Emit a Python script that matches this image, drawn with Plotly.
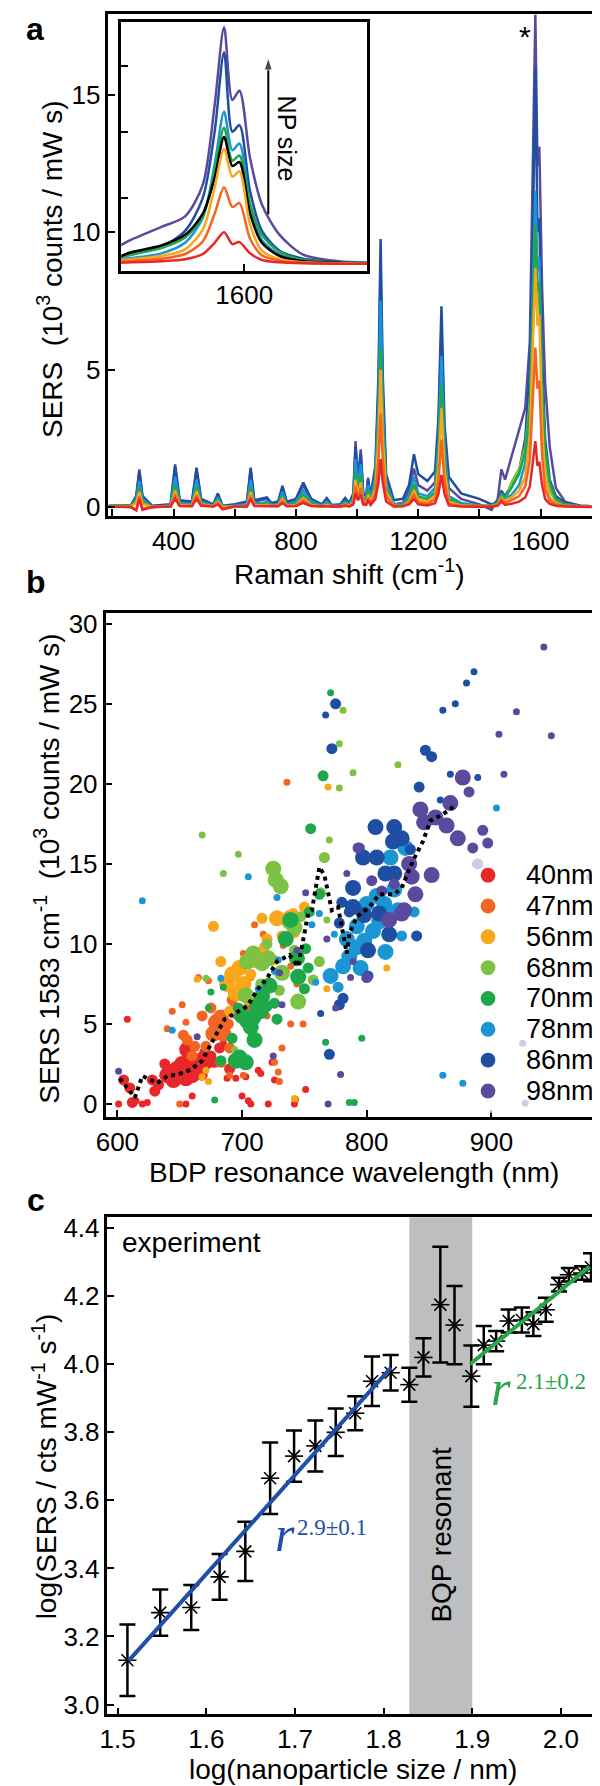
import plotly.graph_objects as go

W, H = 600, 1786
FONT = "Liberation Sans"
SERIF = "Liberation Serif"


def px(x):
    return x / W


def py(y):
    return 1 - y / H


# ---------------- Panel a: SERS spectra ----------------
shift = [187, 260, 278, 288, 298, 330, 390, 405, 420, 460,
         475, 490, 530, 545, 560, 600, 640, 652, 664, 690,
         705, 720, 742, 756, 770, 800, 824, 850, 885, 901,
         917, 945, 961, 975, 988, 995, 1003, 1012, 1020, 1030,
         1036, 1044, 1060, 1070, 1077, 1084, 1095, 1120, 1150, 1170,
         1186, 1200, 1230, 1255, 1266, 1276, 1286, 1300, 1340, 1400,
         1440, 1460, 1472, 1484, 1505, 1530, 1550, 1565, 1575, 1583,
         1590, 1596, 1605, 1615, 1630, 1650, 1680, 1730, 1811]

sers_98nm = [0.00, 0.05, 0.40, 1.37, 0.40, 0.00, 0.05, 1.45, 0.20, 0.15,
             1.35, 0.25, 0.05, 0.45, 0.00, 0.05, 0.15, 1.35, 0.20, 0.25,
             0.30, 0.10, 0.15, 0.70, 0.15, 0.25, 0.80, 0.25, 0.05, 0.30,
             0.05, 0.05, 0.30, 0.10, 0.50, 2.40, 0.90, 2.10, 0.50, 0.40,
             1.07, 0.35, 1.30, 4.20, 8.50, 4.20, 1.00, 0.10, 0.15, 0.60,
             1.40, 0.80, 0.60, 0.90, 2.70, 6.50, 2.60, 0.70, 0.30, 0.10,
             -0.10, 0.30, 1.37, 1.00, 1.86, 2.80, 3.60, 6.00, 12.0, 17.9,
             12.4, 13.1, 8.00, 4.50, 2.20, 0.70, 0.20, 0.05, 0.00]
sers_86nm = [0.05, 0.05, 0.40, 1.30, 0.40, 0.05, 0.10, 1.55, 0.25, 0.20,
             1.43, 0.30, 0.10, 0.50, 0.05, 0.10, 0.20, 1.43, 0.25, 0.30,
             0.35, 0.15, 0.20, 0.77, 0.20, 0.30, 0.89, 0.30, 0.10, 0.33,
             0.08, 0.10, 0.33, 0.15, 0.50, 2.20, 0.90, 1.95, 0.50, 0.40,
             1.00, 0.40, 1.50, 4.80, 9.75, 4.80, 1.20, 0.25, 0.30, 0.80,
             1.92, 1.20, 0.95, 1.30, 3.20, 7.30, 3.00, 1.10, 0.50, 0.30,
             0.10, 0.20, 0.60, 0.40, 0.80, 1.30, 2.50, 5.00, 10.0, 16.0,
             10.0, 10.5, 5.50, 2.50, 1.00, 0.40, 0.15, 0.05, 0.00]
sers_78nm = [0.02, 0.03, 0.30, 0.95, 0.30, 0.00, 0.05, 1.10, 0.15, 0.10,
             1.00, 0.20, 0.05, 0.35, 0.00, 0.05, 0.10, 1.00, 0.15, 0.15,
             0.20, 0.08, 0.10, 0.55, 0.10, 0.20, 0.60, 0.20, 0.05, 0.20,
             0.05, 0.05, 0.20, 0.10, 0.35, 1.75, 0.70, 1.55, 0.35, 0.30,
             0.80, 0.30, 1.10, 3.70, 7.50, 3.70, 0.90, 0.10, 0.10, 0.40,
             1.10, 0.50, 0.40, 0.70, 2.30, 5.50, 2.20, 0.40, 0.15, 0.05,
             0.05, 0.15, 0.50, 0.30, 0.45, 0.80, 1.60, 3.50, 7.50, 11.5,
             8.60, 9.10, 4.50, 1.80, 0.70, 0.25, 0.10, 0.03, 0.00]
sers_70nm = [0.05, 0.08, 0.20, 0.70, 0.20, 0.00, 0.05, 0.80, 0.10, 0.08,
             0.75, 0.15, 0.05, 0.25, 0.00, 0.03, 0.05, 0.70, 0.10, 0.10,
             0.12, 0.05, 0.08, 0.40, 0.08, 0.12, 0.45, 0.12, 0.03, 0.12,
             0.03, 0.03, 0.15, 0.05, 0.25, 1.30, 0.50, 1.15, 0.25, 0.20,
             0.60, 0.20, 0.85, 2.90, 5.80, 2.90, 0.70, 0.05, 0.08, 0.30,
             0.83, 0.40, 0.30, 0.55, 1.80, 4.45, 1.75, 0.30, 0.10, 0.05,
             0.05, 0.15, 0.45, 0.35, 0.70, 1.20, 2.00, 3.60, 7.00, 10.3,
             7.80, 8.20, 4.50, 2.20, 0.90, 0.30, 0.10, 0.02, 0.00]
sers_68nm = [0.03, 0.05, 0.20, 0.65, 0.20, 0.00, 0.05, 0.72, 0.10, 0.08,
             0.70, 0.12, 0.04, 0.22, 0.00, 0.03, 0.05, 0.65, 0.10, 0.08,
             0.10, 0.05, 0.06, 0.36, 0.06, 0.10, 0.40, 0.10, 0.03, 0.10,
             0.03, 0.03, 0.12, 0.05, 0.22, 1.20, 0.45, 1.05, 0.22, 0.18,
             0.55, 0.18, 0.80, 2.75, 5.50, 2.75, 0.65, 0.05, 0.06, 0.25,
             0.75, 0.35, 0.25, 0.50, 1.70, 4.20, 1.65, 0.25, 0.08, 0.04,
             0.04, 0.12, 0.40, 0.25, 0.90, 1.40, 2.20, 3.80, 6.50, 9.60,
             7.40, 7.70, 3.80, 1.60, 0.60, 0.20, 0.08, 0.02, 0.00]
sers_56nm = [0.02, 0.03, 0.15, 0.55, 0.12, 0.00, 0.03, 0.60, 0.08, 0.05,
             0.58, 0.10, 0.03, 0.20, 0.00, 0.02, 0.04, 0.55, 0.08, 0.06,
             0.08, 0.04, 0.05, 0.30, 0.05, 0.08, 0.33, 0.08, 0.02, 0.08,
             0.02, 0.02, 0.10, 0.04, 0.20, 1.00, 0.40, 0.90, 0.20, 0.15,
             0.45, 0.15, 0.70, 2.50, 5.00, 2.50, 0.55, 0.04, 0.05, 0.20,
             0.60, 0.25, 0.20, 0.40, 1.40, 3.60, 1.40, 0.20, 0.06, 0.03,
             0.03, 0.10, 0.35, 0.20, 0.35, 0.60, 1.10, 2.60, 5.80, 8.70,
             6.60, 7.00, 3.00, 1.00, 0.35, 0.12, 0.05, 0.02, 0.00]
sers_47nm = [0.02, 0.00, -0.10, 0.40, -0.05, 0.00, 0.02, 0.45, 0.05, 0.04,
             0.43, 0.08, 0.02, 0.15, -0.05, 0.02, 0.03, 0.42, 0.05, 0.04,
             0.05, 0.03, 0.04, 0.22, 0.04, 0.05, 0.25, 0.05, 0.02, 0.05,
             0.02, 0.02, 0.08, 0.03, 0.15, 0.75, 0.30, 0.70, 0.15, 0.12,
             0.35, 0.12, 0.50, 1.70, 3.40, 1.70, 0.40, 0.03, 0.04, 0.15,
             0.45, 0.18, 0.12, 0.28, 0.95, 2.45, 0.95, 0.12, 0.04, 0.02,
             0.02, 0.08, 0.30, 0.15, 0.25, 0.40, 0.75, 1.70, 3.80, 5.80,
             4.30, 4.60, 1.90, 0.65, 0.25, 0.10, 0.04, 0.02, 0.00]
sers_40nm = [0.02, 0.00, -0.12, 0.29, -0.10, 0.00, 0.02, 0.30, 0.04, 0.03,
             0.30, 0.05, 0.02, 0.10, -0.08, 0.02, 0.02, 0.30, 0.04, 0.03,
             0.04, 0.02, 0.03, 0.15, 0.03, 0.04, 0.15, 0.04, 0.02, 0.03,
             0.02, 0.02, 0.05, 0.02, 0.10, 0.50, 0.25, 0.45, 0.10, 0.08,
             0.25, 0.08, 0.30, 0.90, 1.74, 0.90, 0.20, 0.02, 0.03, 0.10,
             0.30, 0.10, 0.06, 0.14, 0.48, 1.17, 0.48, 0.06, 0.02, 0.01,
             0.01, 0.05, 0.20, 0.08, 0.12, 0.20, 0.35, 0.75, 1.60, 2.40,
             1.50, 1.65, 0.80, 0.30, 0.12, 0.05, 0.02, 0.01, 0.00]

size_names = ["40nm", "47nm", "56nm", "68nm", "70nm", "78nm", "86nm", "98nm"]
colors = {"40nm": "#e8272b", "47nm": "#f26522", "56nm": "#f9a61b", "68nm": "#7dc242",
          "70nm": "#1fa84a", "78nm": "#1b95d4", "86nm": "#1e4fa3", "98nm": "#5a4a9e"}
spectra = {"40nm": sers_40nm, "47nm": sers_47nm, "56nm": sers_56nm, "68nm": sers_68nm,
           "70nm": sers_70nm, "78nm": sers_78nm, "86nm": sers_86nm, "98nm": sers_98nm}

# inset arrow (NP size direction), in inset data units
np_arrow_x = [1620.4, 1620.4]
np_arrow_y = [3.76, 15.6]

# ---------------- Panel b: SERS vs BDP resonance ----------------
# (wavelength nm, SERS 10^3 counts/mW s, weight class 1..3)
pts_40nm = [(601, 0.0, 1), (608, 5.3, 1), (605, 1.5, 2), (610, 1.0, 2), (612, 0.1, 2), (615, 0.2, 1),
            (620, 0.0, 1), (624, 0.1, 1), (628, 1.5, 2), (630, 0.8, 2), (633, 1.2, 2), (638, 2.5, 2),
            (640, 1.8, 3), (643, 2.0, 3), (645, 1.5, 3), (648, 2.2, 3), (650, 1.8, 3), (652, 2.5, 3),
            (655, 1.6, 3), (656, 3.4, 3), (658, 2.0, 3), (660, 1.8, 3), (662, 2.6, 3), (665, 2.2, 3),
            (667, 2.9, 2), (668, 1.8, 2), (670, 3.2, 2), (672, 2.5, 2), (675, 3.0, 2), (678, 2.6, 2),
            (682, 3.5, 2), (685, 3.8, 1), (688, 1.6, 1), (690, 2.2, 2), (695, 1.6, 1), (700, 0.5, 1),
            (703, 1.7, 1), (707, 0.0, 1), (713, 2.1, 1), (721, 0.0, 1), (724, 2.6, 1), (726, 1.5, 1),
            (742, 0.0, 1), (751, 0.9, 1), (660, 0.5, 1), (655, 0.0, 1), (705, 0.2, 1), (715, 1.9, 1)]
pts_47nm = [(640, 4.7, 1), (644, 5.8, 1), (652, 6.2, 1), (655, 5.1, 1), (653, 4.3, 2), (656, 4.0, 2),
            (662, 3.6, 2), (665, 7.9, 1), (671, 3.6, 2), (673, 7.7, 1), (677, 4.4, 3), (679, 5.1, 3),
            (683, 5.4, 3), (685, 4.4, 3), (683, 2.6, 2), (689, 5.0, 2), (690, 3.5, 2), (692, 6.5, 2),
            (695, 5.8, 3), (698, 6.8, 2), (701, 3.0, 1), (701, 9.4, 1), (703, 8.7, 1), (705, 6.0, 2),
            (707, 7.9, 1), (710, 11.2, 1), (717, 10.6, 1), (712, 6.5, 2), (720, 5.5, 1), (726, 2.6, 1),
            (729, 2.0, 1), (730, 1.4, 1), (732, 3.5, 1), (733, 9.9, 1), (739, 8.6, 1), (739, 5.0, 1),
            (744, 7.5, 1), (749, 5.0, 1), (743, 0.3, 1), (650, 0.0, 1), (690, 1.8, 1), (701, 1.8, 1),
            (736, 20.1, 1), (668, 5.5, 2), (675, 6.0, 2), (660, 3.0, 2)]
pts_56nm = [(664, 7.8, 1), (668, 1.7, 1), (671, 2.1, 1), (673, 1.4, 1), (677, 11.1, 2), (683, 8.9, 2),
            (688, 7.5, 3), (692, 8.1, 3), (695, 6.9, 3), (698, 8.5, 3), (701, 7.5, 3), (705, 6.5, 2),
            (707, 8.1, 2), (710, 9.0, 3), (714, 9.3, 3), (716, 11.6, 2), (718, 9.8, 2), (720, 10.3, 2),
            (725, 9.0, 2), (728, 11.6, 3), (732, 10.5, 2), (738, 11.6, 3), (741, 11.9, 2), (742, 10.7, 2),
            (750, 12.3, 2), (742, 0.35, 1), (768, 7.2, 1), (769, 19.8, 1), (816, 8.5, 1), (700, 5.5, 2),
            (690, 5.8, 2)]
pts_68nm = [(668, 16.8, 1), (685, 14.4, 1), (697, 15.6, 1), (725, 14.7, 3), (727, 14.0, 3), (731, 13.6, 3),
            (763, 13.2, 2), (766, 15.4, 2), (770, 16.5, 1), (768, 11.5, 1), (781, 24.6, 1), (778, 22.5, 1),
            (789, 20.7, 1), (778, 19.75, 1), (825, 21.2, 1), (704, 8.9, 3), (709, 9.4, 3), (716, 8.8, 3),
            (721, 9.1, 3), (732, 8.2, 3), (738, 11.4, 3), (742, 11.0, 3), (747, 11.7, 2), (745, 6.4, 3),
            (757, 7.75, 2), (762, 8.9, 2), (671, 7.85, 1), (694, 3.4, 1), (730, 7.1, 2), (703, 6.8, 3),
            (742, 9.6, 2), (715, 7.5, 2), (720, 10.0, 2)]
pts_70nm = [(755, 17.2, 2), (765, 20.5, 2), (762, 13.1, 2), (771, 25.7, 1), (739, 11.5, 3), (754, 12.0, 2),
            (735, 10.3, 3), (745, 7.95, 3), (750, 7.2, 2), (753, 8.5, 2), (751, 9.7, 2), (744, 9.1, 3),
            (722, 7.4, 3), (716, 6.7, 3), (712, 6.1, 3), (709, 5.4, 3), (704, 5.2, 3), (707, 4.8, 3),
            (710, 4.0, 3), (698, 2.9, 3), (703, 2.6, 3), (695, 2.7, 3), (692, 4.1, 2), (683, 2.7, 2),
            (675, 7.0, 1), (685, 7.3, 1), (673, 6.0, 1), (678, 0.25, 1), (767, 3.85, 1), (796, 4.1, 1),
            (786, 0.1, 1), (790, 0.1, 1), (726, 6.3, 2), (720, 6.1, 2), (728, 5.3, 2), (715, 5.8, 3),
            (700, 5.5, 3), (697, 6.0, 2)]
pts_78nm = [(620, 12.7, 1), (705, 14.2, 1), (728, 12.9, 1), (904, 18.5, 1), (819, 15.4, 3), (814, 12.5, 3),
            (822, 13.4, 3), (831, 16.0, 3), (781, 8.6, 3), (786, 9.2, 3), (792, 9.8, 3), (798, 10.2, 3),
            (805, 10.8, 3), (810, 11.4, 3), (819, 11.8, 3), (825, 12.1, 3), (771, 8.0, 3), (777, 7.3, 2),
            (784, 10.3, 3), (792, 11.1, 3), (861, 1.8, 1), (877, 1.3, 1), (644, 4.6, 1), (683, 7.85, 1),
            (713, 7.2, 1), (762, 11.9, 1), (756, 11.2, 1), (726, 8.3, 1), (759, 7.6, 1), (774, 10.6, 1),
            (729, 9.0, 1), (800, 12.5, 3), (808, 13.0, 3), (795, 8.5, 3), (815, 9.5, 3), (828, 10.5, 2),
            (838, 12.0, 2)]
pts_86nm = [(767, 24.3, 1), (775, 25.0, 2), (772, 22.2, 2), (861, 24.6, 1), (871, 25.0, 1), (880, 26.3, 1),
            (886, 27.0, 1), (847, 22.1, 2), (852, 21.7, 2), (867, 20.6, 1), (889, 20.4, 1), (842, 19.8, 2),
            (859, 19.0, 1), (807, 17.3, 3), (822, 17.3, 3), (821, 16.4, 3), (828, 16.6, 3), (835, 15.9, 2),
            (808, 15.4, 3), (797, 15.4, 3), (794, 16.0, 2), (815, 14.4, 3), (789, 13.5, 3), (780, 12.6, 2),
            (787, 12.4, 2), (798, 11.8, 3), (822, 14.4, 3), (840, 10.5, 2), (818, 10.6, 3), (801, 9.6, 3),
            (801, 8.0, 2), (781, 6.6, 2), (778, 6.2, 2), (763, 5.65, 1), (770, 3.1, 2), (810, 11.9, 3),
            (789, 12.3, 3), (778, 11.3, 2), (786, 12.0, 2)]
pts_98nm = [(942, 28.55, 1), (920, 24.5, 1), (948, 23.0, 1), (906, 23.1, 1), (910, 20.6, 1), (877, 20.4, 3),
            (882, 19.5, 2), (867, 18.8, 3), (843, 18.4, 3), (846, 17.6, 3), (855, 17.9, 3), (864, 17.4, 3),
            (873, 16.6, 3), (885, 16.0, 2), (893, 17.1, 2), (897, 16.3, 2), (793, 16.0, 2), (784, 14.4, 1),
            (852, 14.3, 3), (836, 14.2, 3), (834, 15.0, 3), (839, 13.1, 3), (830, 12.1, 3), (822, 13.75, 2),
            (804, 13.95, 2), (812, 13.3, 2), (751, 13.2, 1), (818, 11.5, 3), (828, 11.9, 3), (818, 11.4, 2),
            (789, 8.9, 1), (800, 7.9, 2), (787, 7.9, 1), (775, 6.0, 1), (779, 1.84, 1), (769, 0.0, 1),
            (744, 9.6, 1), (732, 6.2, 1), (730, 8.2, 1), (725, 3.0, 1), (664, 4.2, 1), (601, 2.05, 1),
            (768, 10.3, 1), (889, 15.0, 2), (925, 3.8, 1), (927, 0.05, 1), (979, 14.2, 1)]
scatter_points = {"40nm": pts_40nm, "47nm": pts_47nm, "56nm": pts_56nm, "68nm": pts_68nm,
                  "70nm": pts_70nm, "78nm": pts_78nm, "86nm": pts_86nm, "98nm": pts_98nm}

trend_x = [602, 609, 614, 620, 627, 632, 640, 649, 659, 668, 674, 680, 686, 695, 704, 713, 720,
           728, 738, 745, 753, 756, 762, 766, 772, 777, 780, 784, 786, 792, 802, 810, 822, 828,
           837, 845, 851, 861, 872]
trend_y = [1.6, 0.95, 0.4, 1.75, 1.5, 1.3, 1.75, 1.85, 2.15, 2.7, 3.6, 4.4, 5.3, 5.7, 6.1, 7.2, 7.85,
           8.9, 9.3, 8.6, 11.9, 12.1, 14.8, 14.3, 12.1, 12.3, 11.1, 9.4, 10.6, 11.7, 12.3, 13.1, 13.1, 13.5,
           15.2, 16.4, 17.7, 18.1, 18.7]

# ---------------- Panel c: log-log ----------------
log_size = [1.511, 1.548, 1.583, 1.615, 1.644, 1.672, 1.699, 1.723, 1.746, 1.768, 1.787, 1.808,
            1.829, 1.845, 1.864, 1.880, 1.899, 1.913, 1.927, 1.941, 1.956, 1.969, 1.983, 1.998,
            2.009, 2.024, 2.034]
log_sers = [3.13, 3.27, 3.285, 3.375, 3.45, 3.665, 3.73, 3.76, 3.80, 3.856, 3.95, 3.975,
            3.94, 4.02, 4.175, 4.115, 3.965, 4.056, 4.068, 4.127, 4.13, 4.118, 4.160, 4.234,
            4.263, 4.268, 4.285]
log_err = [0.105, 0.068, 0.066, 0.067, 0.087, 0.105, 0.075, 0.075, 0.07, 0.05, 0.073, 0.052,
           0.05, 0.056, 0.17, 0.115, 0.09, 0.056, 0.03, 0.034, 0.037, 0.035, 0.035, 0.02,
           0.02, 0.02, 0.041]
fit_small_x = [1.5125, 1.8084]
fit_small_y = [3.129, 3.990]
fit_large_x = [1.8975, 2.0325]
fit_large_y = [4.000, 4.287]
bqp_band = [1.829, 1.900]

marker_px = {1: 7, 2: 11, 3: 16}

fig = go.Figure()

# Panel a main spectra (largest first, smallest on top)
for name in ["98nm", "86nm", "78nm", "68nm", "70nm", "56nm", "47nm", "40nm"]:
    fig.add_trace(go.Scatter(x=shift, y=spectra[name], mode="lines",
                             line=dict(color=colors[name], width=2.5),
                             xaxis="x", yaxis="y", showlegend=False, hoverinfo="skip"))

# Inset spectra
for name in ["98nm", "86nm", "78nm", "70nm", "68nm", "56nm", "47nm", "40nm"]:
    c = "black" if name == "68nm" else colors[name]
    fig.add_trace(go.Scatter(x=shift, y=spectra[name], mode="lines",
                             line=dict(color=c, width=2.5, shape="spline", smoothing=0.8),
                             xaxis="x4", yaxis="y4", showlegend=False, hoverinfo="skip"))
fig.add_trace(go.Scatter(x=np_arrow_x, y=np_arrow_y, mode="lines+markers",
                         line=dict(color="black", width=2),
                         marker=dict(symbol="arrow", size=[0, 13], angleref="previous", color="black"),
                         xaxis="x4", yaxis="y4", showlegend=False, hoverinfo="skip"))

# Panel b scatter
for name in size_names:
    pts = scatter_points[name]
    fig.add_trace(go.Scatter(x=[p[0] for p in pts], y=[p[1] for p in pts], mode="markers", name=name,
                             marker=dict(color=colors[name], size=[marker_px[p[2]] for p in pts],
                                         line=dict(width=0), opacity=1),
                             xaxis="x2", yaxis="y2", showlegend=False))
fig.add_trace(go.Scatter(x=trend_x, y=trend_y, mode="lines",
                         line=dict(color="black", width=4, dash="dot"),
                         xaxis="x2", yaxis="y2", showlegend=False))

# Panel c
fig.add_shape(type="rect", xref="x3", yref="y3 domain", x0=bqp_band[0], x1=bqp_band[1], y0=0, y1=1,
              fillcolor="#bcbec0", line=dict(width=0), layer="below")
fig.add_trace(go.Scatter(x=log_size, y=log_sers, mode="markers",
                         marker=dict(symbol="x-thin-open", size=12, color="black",
                                     line=dict(width=1.6, color="black")),
                         error_y=dict(type="data", array=log_err, color="black", thickness=2.5, width=8),
                         xaxis="x3", yaxis="y3", showlegend=False))
fig.add_trace(go.Scatter(x=log_size, y=log_sers, mode="markers",
                         marker=dict(symbol="line-ew-open", size=13, color="black",
                                     line=dict(width=1.6, color="black")),
                         xaxis="x3", yaxis="y3", showlegend=False))
fig.add_trace(go.Scatter(x=fit_small_x, y=fit_small_y, mode="lines", line=dict(color="#1f4fa8", width=4),
                         xaxis="x3", yaxis="y3", showlegend=False))
fig.add_trace(go.Scatter(x=fit_large_x, y=fit_large_y, mode="lines", line=dict(color="#27a648", width=4),
                         xaxis="x3", yaxis="y3", showlegend=False))

base = dict(showline=True, linewidth=2.5, linecolor="black", mirror=True, ticks="inside",
            ticklen=7, tickwidth=2, tickcolor="black", showgrid=False, zeroline=False,
            tickfont=dict(family=FONT, size=26, color="black"))

fig.update_layout(
    width=W, height=H, autosize=False,
    margin=dict(l=0, r=0, t=0, b=0),
    paper_bgcolor="white", plot_bgcolor="white",
    font=dict(family=FONT, color="black"),
    showlegend=False,
    xaxis=dict(base, domain=[px(92), px(597)], anchor="y", range=[187, 1811],
               tickvals=[400, 800, 1200, 1600],
               minor=dict(tickvals=[200, 600, 1000, 1400, 1800], ticks="inside", ticklen=7,
                          tickwidth=2, tickcolor="black", showgrid=False)),
    yaxis=dict(base, domain=[py(507), py(2)], anchor="x", range=[-0.33, 17.93],
               tickvals=[0, 5, 10, 15]),
    xaxis2=dict(base, domain=[px(89), px(595)], anchor="y2", range=[590.5, 989.5],
                tickvals=[600, 700, 800, 900]),
    yaxis2=dict(base, domain=[py(1111), py(604)], anchor="x2", range=[-0.8, 30.7],
                tickvals=[0, 5, 10, 15, 20, 25, 30]),
    xaxis3=dict(base, domain=[px(91), px(592)], anchor="y3", range=[1.4885, 2.0443],
                tickvals=[1.5, 1.6, 1.7, 1.8, 1.9, 2.0], tickformat=".1f"),
    yaxis3=dict(base, domain=[py(1712), py(1212)], anchor="x3", range=[2.971, 4.432],
                tickvals=[3.0, 3.2, 3.4, 3.6, 3.8, 4.0, 4.2, 4.4], tickformat=".1f"),
    xaxis4=dict(base, domain=[px(105), px(355)], anchor="y4", range=[1496, 1704], tickvals=[1600]),
    yaxis4=dict(base, domain=[py(260), py(10)], anchor="x4", range=[-0.5, 18.3],
                tickvals=[5, 10, 15], showticklabels=False),
)

# Panel b legend: translucent box over the points, colour dots and labels
fig.add_shape(type="rect", xref="paper", yref="paper", x0=px(462), x1=px(593), y0=py(1107), y1=py(851),
              fillcolor="rgba(255,255,255,0.72)", line=dict(width=0), layer="above")
ann = []
for i, name in enumerate(size_names):
    cy = 868 + 31 * i
    fig.add_shape(type="circle", xref="paper", yref="paper", x0=px(470.5), x1=px(485.5),
                  y0=py(cy + 7.5), y1=py(cy - 7.5), fillcolor=colors[name],
                  line=dict(width=0), layer="above")
    ann.append(dict(text=name, xref="paper", yref="paper", x=px(515), y=py(cy), xanchor="left",
                    yanchor="middle", showarrow=False, font=dict(family=FONT, size=27, color="black")))

T = dict(family=FONT, size=28, color="black")
# panel letters
for letter, (lx, ly) in {"a": (17, 17), "b": (18, 573), "c": (18, 1195)}.items():
    ann.append(dict(text="<b>%s</b>" % letter, xref="paper", yref="paper", x=px(lx), y=py(ly),
                    xanchor="center", yanchor="middle", showarrow=False,
                    font=dict(family=FONT, size=32, color="black")))
# axis titles
ann.append(dict(text="Raman shift (cm<sup>-1</sup>)", xref="paper", yref="paper", x=px(337), y=py(563),
                xanchor="center", yanchor="middle", showarrow=False, font=T))
ann.append(dict(text="SERS  (10<sup>3</sup> counts / mW s)", xref="paper", yref="paper", x=px(32), y=py(258),
                xanchor="center", yanchor="middle", showarrow=False, font=T, textangle=-90))
ann.append(dict(text="BDP resonance wavelength (nm)", xref="paper", yref="paper", x=px(342), y=py(1167),
                xanchor="center", yanchor="middle", showarrow=False, font=T))
ann.append(dict(text="SERS 1583 cm<sup>-1</sup>  (10<sup>3</sup> counts / mW s)", xref="paper", yref="paper",
                x=px(30), y=py(862), xanchor="center", yanchor="middle", showarrow=False, font=T,
                textangle=-90))
ann.append(dict(text="log(nanoparticle size / nm)", xref="paper", yref="paper", x=px(341), y=py(1767),
                xanchor="center", yanchor="middle", showarrow=False, font=T))
ann.append(dict(text="log(SERS / cts mW<sup>-1</sup> s<sup>-1</sup>)", xref="paper", yref="paper",
                x=px(27), y=py(1463), xanchor="center", yanchor="middle", showarrow=False, font=T,
                textangle=-90))
# panel a extras
ann.append(dict(text="*", xref="x", yref="y", x=1550, y=17.1, xanchor="center", yanchor="middle",
                showarrow=False, font=dict(family=FONT, size=30, color="black")))
ann.append(dict(text="NP size", xref="x4", yref="y4", x=1636, y=9.5, xanchor="center", yanchor="middle",
                showarrow=False, textangle=90, font=dict(family=FONT, size=25, color="black")))
# panel c extras
ann.append(dict(text="experiment", xref="x3", yref="y3", x=1.503, y=4.357, xanchor="left",
                yanchor="middle", showarrow=False, font=T))
ann.append(dict(text="BQP resonant", xref="x3", yref="y3", x=1.865, y=3.50, xanchor="center",
                yanchor="middle", textangle=-90, showarrow=False, font=T))
ann.append(dict(text="<i>r</i>", xref="x3", yref="y3", x=1.6886, y=3.50, xanchor="center", yanchor="middle",
                showarrow=False, font=dict(family=SERIF, size=50, color="#1f4fa8")))
ann.append(dict(text="2.9±0.1", xref="x3", yref="y3", x=1.7418, y=3.52, xanchor="center", yanchor="middle",
                showarrow=False, font=dict(family=SERIF, size=23, color="#1f4fa8")))
ann.append(dict(text="<i>r</i>", xref="x3", yref="y3", x=1.932, y=3.93, xanchor="center", yanchor="middle",
                showarrow=False, font=dict(family=SERIF, size=50, color="#27a648")))
ann.append(dict(text="2.1±0.2", xref="x3", yref="y3", x=1.9885, y=3.95, xanchor="center", yanchor="middle",
                showarrow=False, font=dict(family=SERIF, size=23, color="#27a648")))
fig.update_layout(annotations=ann)

fig.write_html("out.html")
